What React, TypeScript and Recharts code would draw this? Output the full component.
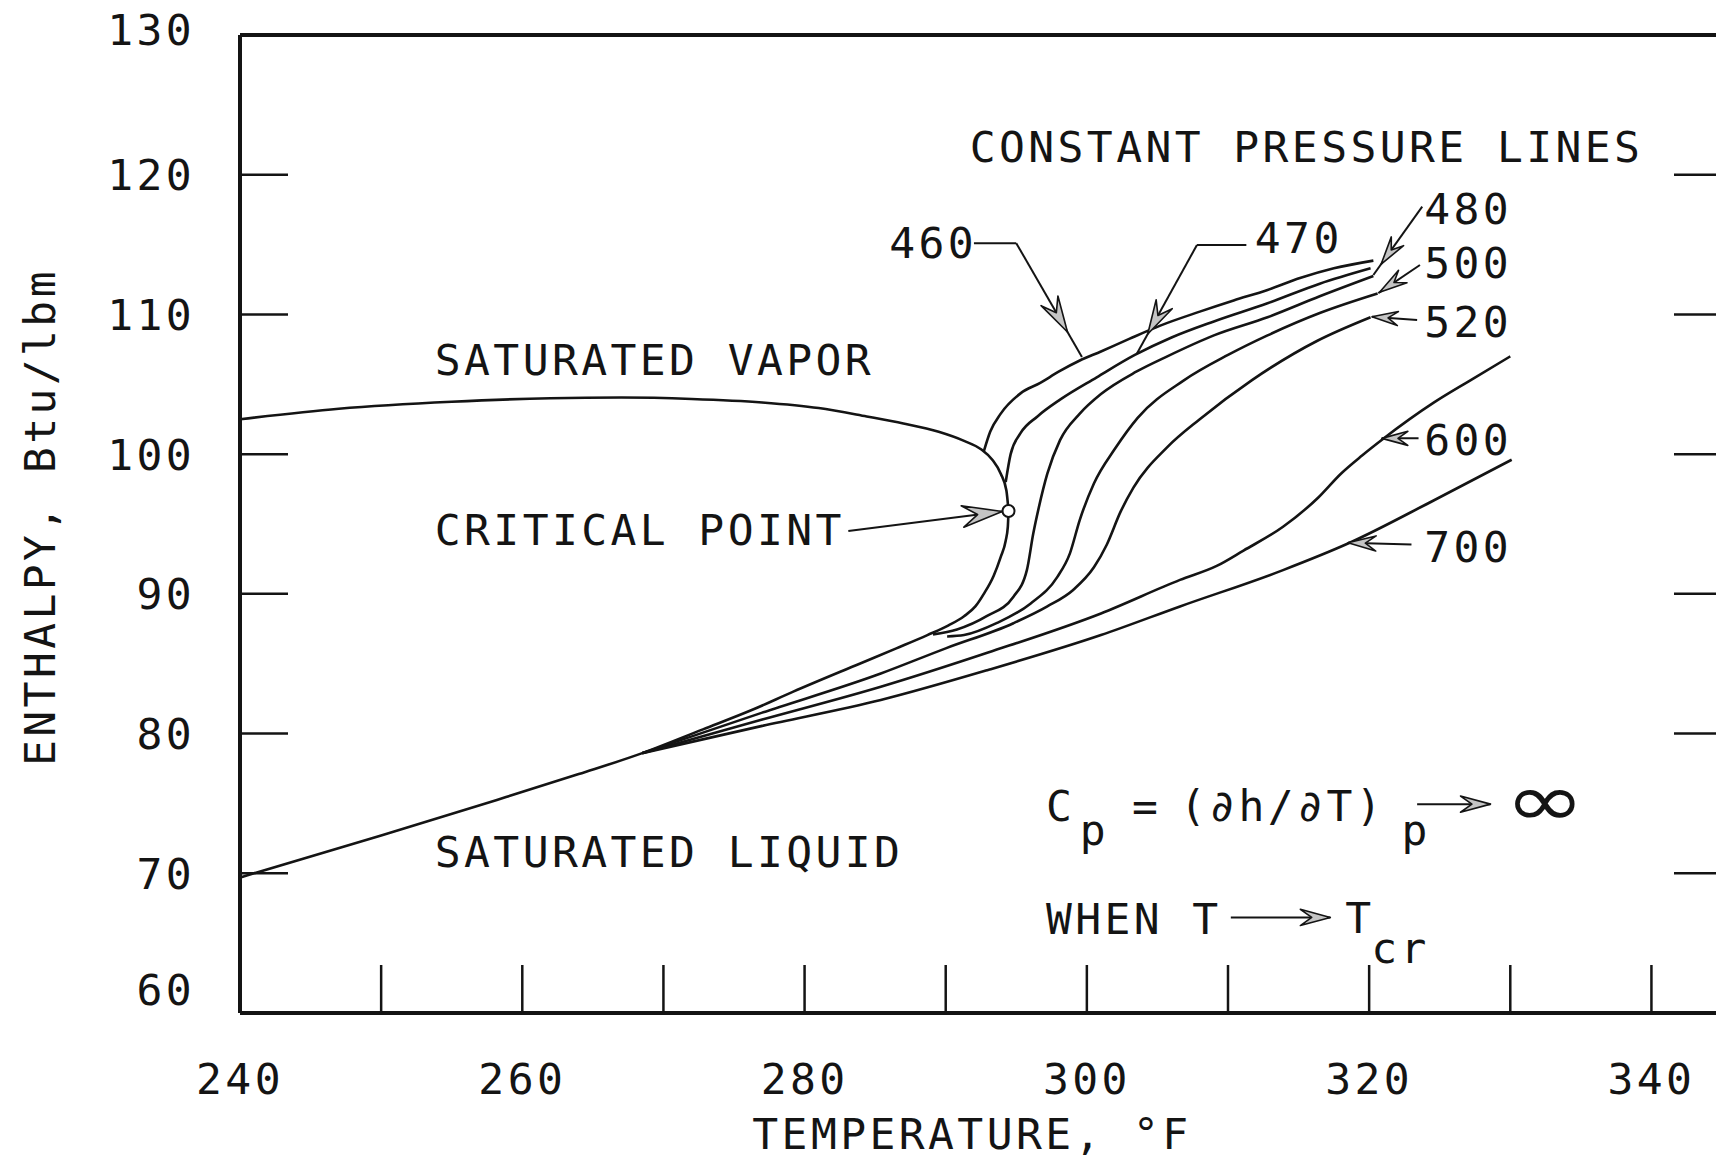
import React from "react";
import { LineChart, Line, XAxis, YAxis, ReferenceLine, ReferenceDot } from "recharts";

const INK = "#141414";
const MONO = "'DejaVu Sans Mono', 'Liberation Mono', monospace";
const FS = 43;
const LS = 3.4;
const TICK_LEN = 48;

const xTicks = [240, 250, 260, 270, 280, 290, 300, 310, 320, 330, 340];
const xLabelled = [240, 260, 280, 300, 320, 340];
const yTicks = [60, 70, 80, 90, 100, 110, 120, 130];

// saturation dome, [temperature °F, enthalpy Btu/lbm]
const satVapor: [number, number][] = [
  [240, 102.5], [247, 103.25], [255, 103.75], [262, 104.0], [267, 104.05], [272, 103.95],
  [277, 103.7], [281, 103.3], [284.4, 102.7], [287, 102.2], [289.5, 101.6], [291.3, 100.95],
  [292.5, 100.35], [293.3, 99.6], [293.9, 98.6], [294.3, 97.4], [294.45, 95.93],
];
const satLiquid: [number, number][] = [
  [240, 69.7], [250, 72.7], [258.2, 75.25], [264, 77.1], [268.5, 78.6], [272.8, 80.3],
  [276.3, 81.7], [279.2, 83.0], [283.9, 85.0], [286.5, 86.1], [288.7, 87.05], [290.2, 87.75],
  [291.3, 88.4], [292.1, 89.1], [292.7, 90.0], [293.4, 91.3], [293.9, 92.65], [294.25, 93.8],
  [294.4, 94.8], [294.45, 95.93],
];
const criticalPoint: [number, number] = [294.45, 95.93];

// constant pressure lines (psia)
const p460: [number, number][] = [
  [292.7, 100.2], [293.15, 101.6], [293.9, 102.9], [295.3, 104.35], [296.7, 105.1], [298, 105.9],
  [299.5, 106.7], [301, 107.35], [303, 108.25], [305.2, 109.2], [308, 110.2], [310.4, 111.0],
  [312.8, 111.75], [315.1, 112.6], [317.5, 113.3], [320.3, 113.85],
];
const p470: [number, number][] = [
  [294.25, 98.0], [294.6, 100.0], [295.3, 101.5], [296.5, 102.7], [298.1, 103.9], [300.7, 105.5],
  [303.4, 107.1], [306, 108.35], [309, 109.5], [312.8, 110.8], [316.5, 112.2], [320.1, 113.3],
];
const p480: [number, number][] = [
  [289.1, 87.1], [290.8, 87.45], [292.9, 88.4], [294.8, 89.8], [295.75, 91.7], [296.2, 94.3],
  [296.6, 96.2], [297.2, 98.6], [298.1, 101.0], [299.5, 102.9], [301.0, 104.3], [303.5, 105.9],
  [305.7, 107.0], [309, 108.5], [312.8, 109.8], [316.5, 111.3], [320.3, 112.75],
];
const p500: [number, number][] = [
  [290.1, 86.95], [291.3, 87.05], [293.6, 87.9], [296.0, 89.3], [297.9, 91.2], [298.8, 92.9],
  [299.5, 95.3], [300.5, 97.9], [302, 100.4], [303.6, 102.6], [306.9, 105.3], [310, 107.1],
  [312.8, 108.5], [316.5, 110.1], [320.6, 111.5],
];
const p520: [number, number][] = [
  [268.5, 78.6], [277, 81.5], [285.4, 84.3], [290, 86.1], [294.8, 87.9], [297.2, 89.1],
  [299.05, 90.3], [300.5, 91.9], [301.4, 93.5], [302.4, 95.9], [303.3, 97.6], [305.7, 100.5],
  [308, 102.5], [311.7, 105.3], [316.3, 108.1], [320.1, 109.8],
];
const p600: [number, number][] = [
  [268.5, 78.6], [277, 81.0], [285.4, 83.35], [293, 85.8], [301, 88.6], [306.6, 91.0],
  [309.2, 92.0], [311.1, 93.1], [313.9, 94.8], [316.4, 96.9], [318, 98.6], [319.5, 99.9],
  [321, 101.1], [324.6, 103.7], [327.2, 105.3], [330, 107.0],
];
const p700: [number, number][] = [
  [268.5, 78.6], [277, 80.55], [285.4, 82.4], [293, 84.55], [301, 87.05], [306.6, 89.1],
  [313.9, 91.7], [318.5, 93.6], [324.6, 96.7], [330.1, 99.6],
];

const curves = [satVapor, satLiquid, p460, p470, p480, p500, p520, p600, p700];

// lettering on the plot: anchor = start of the baseline
const notes = [
  { T: 253.8, h: 105.66, text: "SATURATED VAPOR" },
  { T: 253.8, h: 93.49, text: "CRITICAL POINT" },
  { T: 253.8, h: 70.42, text: "SATURATED LIQUID" },
  { T: 291.7, h: 120.9, text: "CONSTANT PRESSURE LINES" },
  { T: 286.0, h: 114.04, text: "460" },
  { T: 311.9, h: 114.4, text: "470" },
  { T: 323.9, h: 116.5, text: "480" },
  { T: 323.9, h: 112.6, text: "500" },
  { T: 323.9, h: 108.4, text: "520" },
  { T: 323.9, h: 99.94, text: "600" },
  { T: 323.9, h: 92.3, text: "700" },
  { T: 297.1, h: 73.74, text: "C" },
  { T: 299.5, h: 72.02, text: "p" },
  { T: 303.2, h: 73.74, text: "=" },
  { T: 306.6, h: 73.74, text: "(∂h/∂T)" },
  { T: 322.3, h: 72.02, text: "p" },
  { T: 297.1, h: 65.65, text: "WHEN T" },
  { T: 318.3, h: 65.72, text: "T" },
  { T: 320.15, h: 63.57, text: "cr" },
];
const infinity = { T: 329.6, h: 73.35, text: "∞" };

// leader lines; head = where the arrow tip sits along the segment
const leaders = [
  { from: [292.0, 115.1], to: [295.0, 115.1], head: 0, size: 0 },
  { from: [295.0, 115.1], to: [299.65, 106.95], head: 0.78, size: 36 },
  { from: [311.3, 114.97], to: [307.8, 114.97], head: 0, size: 0 },
  { from: [307.8, 114.97], to: [303.55, 107.2], head: 0.82, size: 34 },
  { from: [323.76, 117.72], to: [320.3, 112.82], head: 0.84, size: 28 },
  { from: [323.6, 113.54], to: [320.65, 111.53], head: 0.97, size: 28 },
  { from: [323.4, 109.6], to: [320.2, 109.84], head: 1, size: 26 },
  { from: [323.5, 101.13], to: [320.9, 101.13], head: 1, size: 26 },
  { from: [323.0, 93.54], to: [318.5, 93.66], head: 1, size: 28 },
  { from: [283.1, 94.5], to: [294.0, 95.9], head: 1, size: 40 },
  { from: [323.4, 74.95], to: [328.6, 74.95], head: 1, size: 30 },
  { from: [310.2, 66.84], to: [317.25, 66.84], head: 1, size: 30 },
];

const textStyle = { fontFamily: MONO, fontSize: FS, letterSpacing: LS, fill: INK };

const toPts = (arr: [number, number][]) => arr.map(([T, h]) => ({ T, h }));

const BottomTick = ({ x, y, payload }: any) => (
  <g>
    {payload.value > 240 && (
      <line x1={x} y1={y} x2={x} y2={y - TICK_LEN} stroke={INK} strokeWidth={2.5} />
    )}
    {xLabelled.includes(payload.value) && (
      <text x={x} y={y + 81} textAnchor="middle" {...textStyle}>
        {payload.value}
      </text>
    )}
  </g>
);

const TopTick = ({ x, y, payload }: any) =>
  payload.value > 240 ? (
    <line x1={x} y1={y} x2={x} y2={y + TICK_LEN} stroke={INK} strokeWidth={2.5} />
  ) : (
    <g />
  );

const LeftTick = ({ x, y, payload }: any) => {
  const v = payload.value;
  const dy = v === 60 ? -24 : v === 130 ? -6 : 0;
  return (
    <g>
      {v > 60 && v < 130 && (
        <line x1={x} y1={y} x2={x + TICK_LEN} y2={y} stroke={INK} strokeWidth={2.5} />
      )}
      <text x={x - 45} y={y + 15.5 + dy} textAnchor="end" {...textStyle}>
        {v}
      </text>
    </g>
  );
};

const RightTick = ({ x, y, payload }: any) =>
  payload.value > 60 && payload.value < 130 ? (
    <line x1={x} y1={y} x2={x - TICK_LEN} y2={y} stroke={INK} strokeWidth={2.5} />
  ) : (
    <g />
  );

const XTitle = (p: any) => {
  const vb = p.viewBox || { x: 240, y: 1013 };
  return (
    <text x={vb.x + 732} y={vb.y + 136} textAnchor="middle" {...textStyle}>
      TEMPERATURE, °F
    </text>
  );
};

const YTitle = (p: any) => {
  const vb = p.viewBox || { x: 239, y: 35 };
  const cx = vb.x - 184;
  const cy = vb.y + 482;
  return (
    <text x={cx} y={cy} transform={`rotate(-90 ${cx} ${cy})`} textAnchor="middle" {...textStyle}>
      ENTHALPY, Btu/lbm
    </text>
  );
};

const leaderShape = (head: number, size: number) => (p: any) => {
  const { x1, y1, x2, y2 } = p;
  const shaft = <line x1={x1} y1={y1} x2={x2} y2={y2} stroke={INK} strokeWidth={2} />;
  if (!head) return shaft;
  const a = Math.atan2(y2 - y1, x2 - x1);
  const c = Math.cos(a);
  const s = Math.sin(a);
  const tx = x1 + (x2 - x1) * head;
  const ty = y1 + (y2 - y1) * head;
  const w = size * 0.27;
  const pt = (u: number, v: number) => `${tx + u * c - v * s},${ty + u * s + v * c}`;
  return (
    <g>
      {shaft}
      <polygon
        points={[pt(0, 0), pt(-size, w), pt(-size * 0.62, 0), pt(-size, -w)].join(" ")}
        fill="#c4c4c4"
        stroke={INK}
        strokeWidth={1.6}
        strokeLinejoin="round"
      />
    </g>
  );
};

const noteShape = (text: string) => (p: any) => (
  <text x={p.cx} y={p.cy} textAnchor="start" {...textStyle}>
    {text}
  </text>
);

// hand-drawn infinity sign: italic and stretched a little wider
const infinityShape = (p: any) => (
  <text
    x={p.cx}
    y={p.cy}
    transform={`translate(${p.cx} ${p.cy}) scale(1.3 1) translate(${-p.cx} ${-p.cy})`}
    fontFamily="'DejaVu Sans', sans-serif"
    fontSize={74}
    fontStyle="italic"
    fill={INK}
  >
    {infinity.text}
  </text>
);

const frame = { stroke: INK, strokeWidth: 4 };

export default function App() {
  return (
    <div
      style={{
        position: "absolute",
        left: 0,
        top: 0,
        width: 1716,
        height: 1161,
        overflow: "hidden",
        background: "#fff",
      }}
    >
      <LineChart width={1745} height={1161} margin={{ top: 34, right: 22, bottom: 147, left: 239 }}>
        <XAxis
          dataKey="T"
          type="number"
          domain={[240, 345]}
          ticks={xTicks}
          interval={0}
          allowDataOverflow
          height={1}
          tickSize={0}
          tickMargin={0}
          tickLine={false}
          axisLine={frame}
          tick={(p: any) => <BottomTick {...p} />}
          label={{ content: XTitle }}
        />
        <XAxis
          xAxisId="top"
          orientation="top"
          type="number"
          domain={[240, 345]}
          ticks={xTicks}
          interval={0}
          allowDataOverflow
          height={1}
          tickSize={0}
          tickMargin={0}
          tickLine={false}
          axisLine={frame}
          tick={(p: any) => <TopTick {...p} />}
        />
        <YAxis
          type="number"
          domain={[60, 130]}
          ticks={yTicks}
          interval={0}
          allowDataOverflow
          width={1}
          tickSize={0}
          tickMargin={0}
          tickLine={false}
          axisLine={frame}
          tick={(p: any) => <LeftTick {...p} />}
          label={{ content: YTitle }}
        />
        <YAxis
          yAxisId="right"
          orientation="right"
          type="number"
          domain={[60, 130]}
          ticks={yTicks}
          interval={0}
          allowDataOverflow
          width={1}
          tickSize={0}
          tickMargin={0}
          tickLine={false}
          axisLine={frame}
          tick={(p: any) => <RightTick {...p} />}
        />

        {curves.map((c, i) => (
          <Line
            key={i}
            data={toPts(c)}
            dataKey="h"
            type="monotone"
            stroke={INK}
            strokeWidth={2.6}
            dot={false}
            activeDot={false}
            isAnimationActive={false}
          />
        ))}

        {leaders.map((l, i) => (
          <ReferenceLine
            key={`ld${i}`}
            segment={[
              { x: l.from[0], y: l.from[1] },
              { x: l.to[0], y: l.to[1] },
            ]}
            ifOverflow="visible"
            shape={leaderShape(l.head, l.size)}
          />
        ))}

        <ReferenceDot
          x={criticalPoint[0]}
          y={criticalPoint[1]}
          r={6}
          fill="#fff"
          stroke={INK}
          strokeWidth={2}
        />

        {notes.map((n, i) => (
          <ReferenceDot key={`n${i}`} x={n.T} y={n.h} r={0} shape={noteShape(n.text)} />
        ))}
        <ReferenceDot x={infinity.T} y={infinity.h} r={0} shape={infinityShape} />
      </LineChart>
    </div>
  );
}
